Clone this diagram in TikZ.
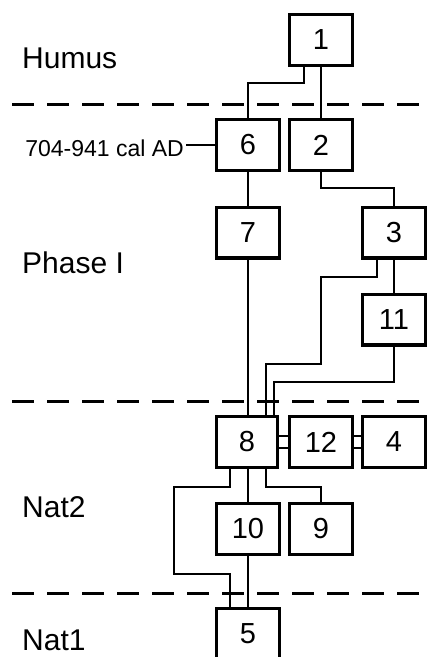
\documentclass[tikz,border=0pt]{standalone}
\usepackage{fontspec}
\setmainfont{Liberation Sans}
\begin{document}
\begin{tikzpicture}[x=1pt,y=1pt,
  box/.style={draw, line width=3.3pt, minimum width=62.7pt, minimum height=50.7pt, inner sep=0pt, font=\fontsize{29}{34}\selectfont},
  conn/.style={line width=2pt},
  sep/.style={line width=3pt, dash pattern=on 22pt off 13pt},
  lbl/.style={inner sep=0pt, font=\fontsize{30}{36}\selectfont},
  datelbl/.style={inner sep=2pt, font=\fontsize{23}{28}\selectfont}]
\useasboundingbox (0,0) rectangle (427,-657);
\clip (0,0) rectangle (427,-657);
% phase separators
\coordinate (s1a) at (12,-104); \coordinate (s1b) at (427,-104);
\coordinate (s2a) at (12,-401); \coordinate (s2b) at (427,-401);
\coordinate (s3a) at (12,-593); \coordinate (s3b) at (427,-593);
\draw[sep] (s1a) -- (s1b);
\draw[sep] (s2a) -- (s2b);
\draw[sep] (s3a) -- (s3b);
% phase labels
\node[lbl, anchor=base west] (humus) at (22,-68) {Humus};
\node[lbl, anchor=base west] (phase) at (22,-273) {Phase I};
\node[lbl, anchor=base west] (nat2) at (22,-517) {Nat2};
\node[lbl, anchor=base west] (nat1) at (22,-650) {Nat1};
% boxes
\node[box] (b1) at (321,-40) {1};
\node[box] (b6) at (248,-145) {6};
\node[box] (b2) at (321,-145) {2};
\node[box] (b7) at (248,-232.5) {7};
\node[box] (b3) at (394,-232.5) {3};
\node[box] (b11) at (394,-319.5) {11};
\node[box, minimum width=61pt] (b8) at (247,-442) {8};
\node[box] (b12) at (321,-442) {12};
\node[box] (b4) at (394,-442) {4};
\node[box] (b10) at (248,-529) {10};
\node[box] (b9) at (321,-529) {9};
\node[box] (b5) at (248,-634) {5};
% date label
\node[datelbl, anchor=base east] (date) at (186,-156) {704-941 cal AD};
\draw[conn] (date.east |- b6.west) -- (b6.west);
% connectors
\draw[conn] ([xshift=-17pt]b1.south) -- ++(0,-16) -| (b6.north);
\draw[conn] (b1.south) -- (b2.north);
\draw[conn] (b2.south) -- ++(0,-16) -| (b3.north);
\draw[conn] (b6.south) -- (b7.north);
\draw[conn] (b7.south) -- (b7.south |- b8.north);
\draw[conn] (b3.south) -- (b11.north);
\draw[conn] ([xshift=-17pt]b3.south) -- ++(0,-17) -| ++(-56,-87) -| ([xshift=19pt]b8.north);
\draw[conn] (b11.south) -- ++(0,-35) -| ([xshift=27pt]b8.north);
\draw[conn] ([yshift=6pt]b8.east) -- ([yshift=6pt]b12.west);
\draw[conn] ([yshift=-6pt]b8.east) -- ([yshift=-6pt]b12.west);
\draw[conn] ([yshift=6pt]b12.east) -- ([yshift=6pt]b4.west);
\draw[conn] ([yshift=-6pt]b12.east) -- ([yshift=-6pt]b4.west);
\draw[conn] (b10.north |- b8.south) -- (b10.north);
\draw[conn] ([xshift=19pt]b8.south) -- ++(0,-18) -| (b9.north);
\draw[conn] ([xshift=-17pt]b8.south) -- ++(0,-18) -| ++(-56,-87) -| ([xshift=-18pt]b5.north);
\draw[conn] (b10.south) -- (b5.north);
\end{tikzpicture}
\end{document}
